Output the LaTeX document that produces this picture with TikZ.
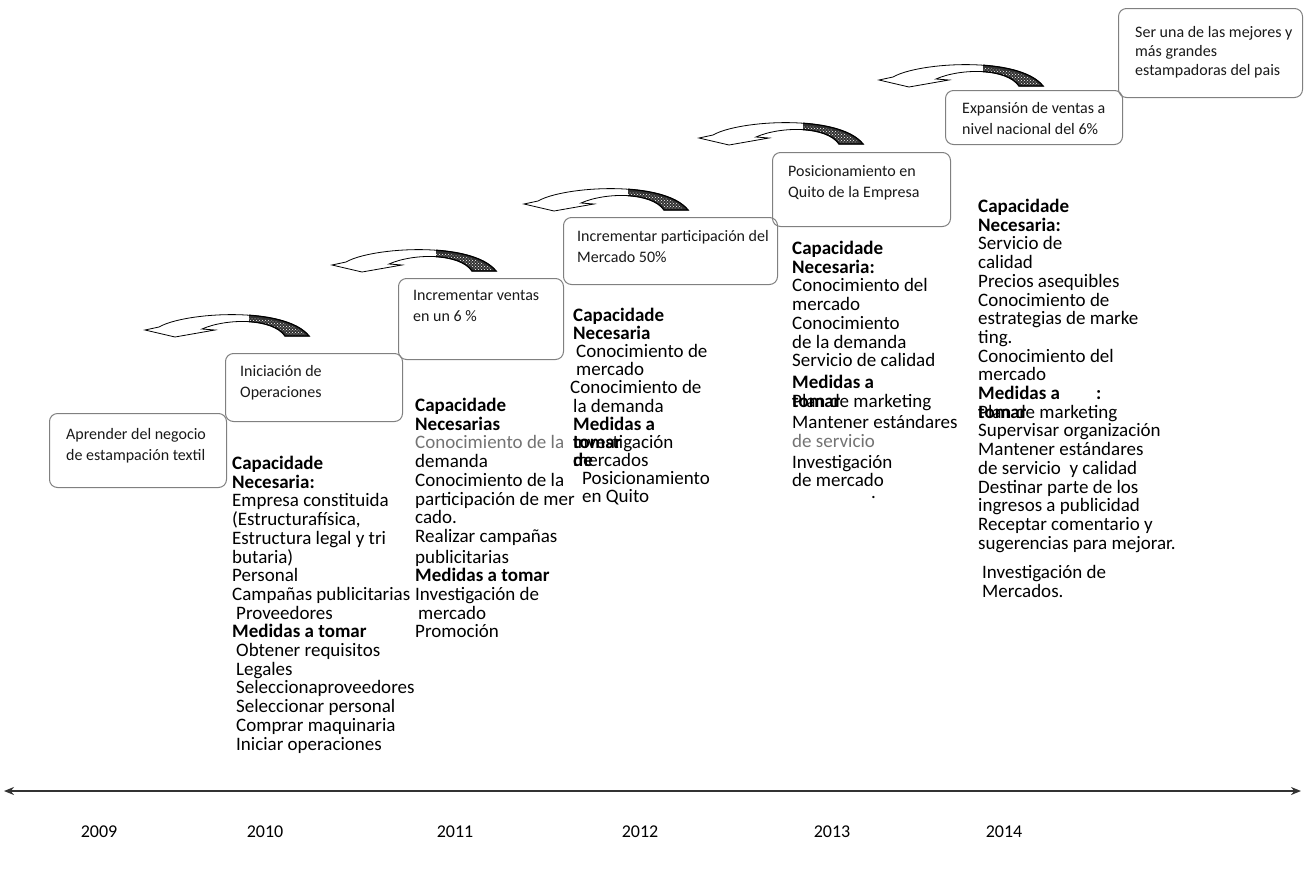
\documentclass[tikz,border=0pt]{standalone}
\usepackage{fontspec}
\setmainfont{Carlito}
\usetikzlibrary{arrows.meta,patterns}

\newcommand{\tightlines}{\lineskiplimit=-40pt\relax}

\tikzset{
  goalbox/.style={draw=black!50, line width=1pt, rounded corners=8pt, anchor=north west, inner sep=0pt},
  goaltxt/.style={anchor=north west, align=left, inner sep=0pt, text=black!90, font=\fontsize{16}{21}\selectfont},
  coltxt/.style={anchor=north west, align=left, inner sep=0pt, text=black, font=\fontsize{19}{18.7}\selectfont\tightlines},
  yeartxt/.style={font=\fontsize{18}{20}\selectfont, text=black},
  timeline/.style={{Stealth[length=10pt,width=8pt]}-{Stealth[length=10pt,width=8pt]}, line width=1.8pt, black!80},
  pics/bentarrow/.style={code={
    \filldraw[fill=white, draw=black, line width=0.8pt]
      (0,0) -- (14,-3) .. controls (40,-18) and (140,-24) .. (164,6)
      -- (140,6) .. controls (128,-12) and (82,-12) .. (57,-1)
      -- (70,0) -- (30,7) -- cycle;
    \begin{scope}
      \clip (104,-30) rectangle (170,12);
      \fill[black!80]
        (14,-3) .. controls (40,-18) and (140,-24) .. (164,6)
        -- (140,6) .. controls (128,-12) and (82,-12) .. (57,-1) -- cycle;
      \fill[pattern=crosshatch dots, pattern color=white]
        (14,-1) .. controls (40,-15) and (138,-20) .. (160,5)
        -- (142,5) .. controls (128,-12) and (82,-12) .. (57,-1) -- cycle;
      \draw[black, line width=1.2pt]
        (14,-3) .. controls (40,-18) and (140,-24) .. (164,6)
        -- (140,6) .. controls (128,-12) and (82,-12) .. (57,-1);
    \end{scope}
  }}
}

\begin{document}
\begin{tikzpicture}[x=1pt,y=-1pt]
\useasboundingbox (0,0) rectangle (1304,868);

% curved arrows
\pic at (145,330) {bentarrow};
\pic at (332,265) {bentarrow};
\pic at (524,204) {bentarrow};
\pic at (699,138) {bentarrow};
\pic at (879,80) {bentarrow};

% goal boxes
\node[goalbox, minimum width=177pt, minimum height=74pt] (b1) at (49,413) {};
\node[goalbox, minimum width=177pt, minimum height=68pt] (b2) at (225,353) {};
\node[goalbox, minimum width=165pt, minimum height=81pt] (b3) at (398,278) {};
\node[goalbox, minimum width=214pt, minimum height=67pt] (b4) at (563,217) {};
\node[goalbox, minimum width=178pt, minimum height=74pt] (b5) at (772,152) {};
\node[goalbox, minimum width=177pt, minimum height=54pt] (b6) at (945,90) {};
\node[goalbox, minimum width=184pt, minimum height=89pt] (b7) at (1118,8) {};

\node[goaltxt] (g1) at ([xshift=17pt,yshift=-15pt]b1.north west) {Aprender del negocio\\de estampación textil};
\node[goaltxt] (g2) at ([xshift=15pt,yshift=-12pt]b2.north west) {Iniciación de\\Operaciones};
\node[goaltxt] (g3) at ([xshift=15pt,yshift=-12pt]b3.north west) {Incrementar ventas\\en un 6 \%};
\node[goaltxt] (g4) at ([xshift=14pt,yshift=-13pt]b4.north west) {Incrementar participación del\\Mercado 50\%};
\node[goaltxt] (g5) at ([xshift=16pt,yshift=-13pt]b5.north west) {Posicionamiento en\\Quito de la Empresa};
\node[goaltxt] (g6) at ([xshift=17pt,yshift=-12pt]b6.north west) {Expansión de ventas a\\nivel nacional del 6\%};
\node[goaltxt, font=\fontsize{16}{19}\selectfont] (g7) at ([xshift=17pt,yshift=-18pt]b7.north west) {Ser una de las mejores y\\más grandes\\estampadoras del pais};

% columns
\node[coltxt] (c2010) at (232,456) {\textbf{Capacidade}\\\textbf{Necesaria:}\\Empresa constituida\\(Estructurafísica,\\Estructura legal y tri\\butaria)\\Personal\\Campañas publicitarias\\\hspace{4pt}Proveedores\\\textbf{Medidas a tomar}\\\hspace{4pt}Obtener requisitos\\\hspace{4pt}Legales\\\hspace{4pt}Seleccionaproveedores\\\hspace{4pt}Seleccionar personal\\\hspace{4pt}Comprar maquinaria\\\hspace{4pt}Iniciar operaciones};

\node[coltxt] (c2011) at (415,398) {\textbf{Capacidade}\\\textbf{Necesarias}\\{\color{black!55}Conocimiento de la}\\demanda\\Conocimiento de la\\participación de mer\\cado.\\Realizar campañas\\[2pt]publicitarias\\\textbf{Medidas a tomar}\\Investigación de\\\hspace{3pt}mercado\\Promoción};

\node[coltxt, font=\fontsize{19}{18.1}\selectfont\tightlines] (c2012) at (573,308) {\textbf{Capacidade}\\\textbf{Necesaria}\\\hspace{3pt}Conocimiento de\\\hspace{3pt}mercado\\\hspace{-3pt}Conocimiento de\\la demanda\\\textbf{Medidas a}\\\rlap{\textbf{tomar}}Investigación\\\rlap{\textbf{de}}mercados\\\hspace{9pt}Posicionamiento\\\hspace{9pt}en Quito};

\node[coltxt] (c2013) at (792,241) {\textbf{Capacidade}\\\textbf{Necesaria:}\\Conocimiento del\\mercado\\Conocimiento\\de la demanda\\Servicio de calidad\\[3pt]\textbf{Medidas a}\\\rlap{\textbf{tomar}}Plan de marketing\\[3pt]Mantener estándares\\{\color{black!55}de servicio}\\[2pt]Investigación\\de mercado};
\node[coltxt] (dot) at (871,496) {.};

\node[coltxt] (c2014) at (978,199) {\textbf{Capacidade}\\\textbf{Necesaria:}\\Servicio de\\calidad\\Precios asequibles\\Conocimiento de\\estrategias de marke\\ting.\\Conocimiento del\\mercado\\\textbf{Medidas a}\hspace{36pt}\textbf{:}\\\rlap{\textbf{tomar}}Plan de marketing\\Supervisar organización\\Mantener estándares\\de servicio\ \ y calidad\\Destinar parte de los\\ingresos a publicidad\\Receptar comentario y\\sugerencias para mejorar.\\[11pt]\hspace{4pt}Investigación de\\\hspace{4pt}Mercados.};

% timeline
\coordinate (tl) at (4,791);
\coordinate (tr) at (1301,791);
\draw[timeline] (tl) -- (tr);

\foreach \yr/\xx in {2009/99, 2010/265, 2011/455, 2012/640, 2013/832, 2014/1004}
  \node[yeartxt] (y\yr) at (\xx,832) {\yr};

\end{tikzpicture}
\end{document}
